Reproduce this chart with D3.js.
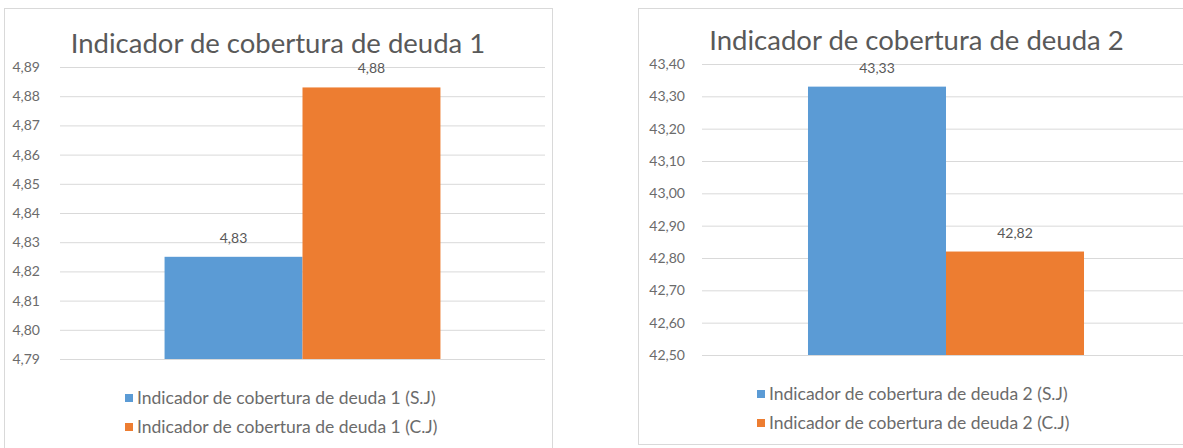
<!DOCTYPE html>
<html>
<head>
<meta charset="utf-8">
<script src="https://cdn.jsdelivr.net/npm/d3@7"></script>
<style>
  html, body { margin: 0; padding: 0; background: #fff; }
  svg { display: block; }
  text { font-family: Lato, "Open Sans", sans-serif; }
</style>
</head>
<body>
<svg id="chart" width="1183" height="448"></svg>
<script>
// chart values
const titles = ['Indicador de cobertura de deuda 1', 'Indicador de cobertura de deuda 2'];
const seriesNames1 = ['Indicador de cobertura de deuda 1 (S.J)', 'Indicador de cobertura de deuda 1 (C.J)'];
const seriesNames2 = ['Indicador de cobertura de deuda 2 (S.J)', 'Indicador de cobertura de deuda 2 (C.J)'];
const values1 = [4.825, 4.883];
const values2 = [43.33, 42.82];
const domain1 = [4.79, 4.89];
const domain2 = [42.5, 43.4];
const tickCount1 = 10;
const tickCount2 = 9;
const colors = ['#5b9bd5', '#ed7d31'];

const locale = d3.formatLocale({decimal: ',', thousands: '.', grouping: [3], currency: ['', '€']});
const fmt = locale.format('.2f');

const svg = d3.select('#chart');

function drawChart(opts) {
  const g = svg.append('g');

  // outer frame
  g.append('rect')
    .attr('x', opts.frame.x + 0.5)
    .attr('y', opts.frame.y + 0.5)
    .attr('width', opts.frame.w)
    .attr('height', opts.frame.h)
    .attr('fill', '#fff')
    .attr('stroke', '#d9d9d9')
    .attr('stroke-width', 1);

  const y = d3.scaleLinear().domain(opts.domain).range([opts.plot.bottom, opts.plot.top]);
  const x0 = d3.scaleBand().domain([opts.title]).range([opts.plot.left, opts.plot.right])
    .paddingInner(0).paddingOuter(opts.outerPad);
  const x1 = d3.scaleBand().domain(opts.series).range([0, x0.bandwidth()]).padding(0);

  // gridlines + tick labels
  const yAxis = d3.axisLeft(y)
    .ticks(opts.tickCount)
    .tickFormat(fmt)
    .tickSize(-(opts.plot.right - opts.plot.left))
    .tickPadding(opts.tickPad);
  const ax = g.append('g')
    .attr('transform', `translate(${opts.plot.left},0)`)
    .call(yAxis);
  ax.select('.domain').remove();
  ax.selectAll('.tick line').attr('stroke', '#d9d9d9').attr('stroke-width', 1);
  ax.selectAll('.tick text')
    .attr('fill', '#6b6b6b')
    .style('font-size', '14px');

  // bars
  const bars = g.append('g');
  opts.values.forEach((v, i) => {
    bars.append('rect')
      .attr('x', x0(opts.title) + x1(opts.series[i]))
      .attr('y', y(v))
      .attr('width', x1.bandwidth())
      .attr('height', y(opts.domain[0]) - y(v))
      .attr('fill', colors[i]);
    bars.append('text')
      .attr('x', x0(opts.title) + x1(opts.series[i]) + x1.bandwidth() / 2)
      .attr('y', y(v) - 14)
      .attr('text-anchor', 'middle')
      .attr('fill', '#595959')
      .style('font-size', '14px')
      .text(fmt(v));
  });

  // title
  g.append('text')
    .attr('x', opts.frame.x + opts.frame.w / 2)
    .attr('y', opts.titleY)
    .attr('text-anchor', 'middle')
    .attr('fill', '#595959')
    .style('font-size', '27.5px')
    .text(opts.title);

  // legend
  const lg = g.append('g');
  opts.series.forEach((s, i) => {
    const ly = opts.legend.y + i * opts.legend.step;
    lg.append('rect')
      .attr('x', opts.legend.x)
      .attr('y', ly - 4)
      .attr('width', 8)
      .attr('height', 8)
      .attr('fill', colors[i]);
    lg.append('text')
      .attr('x', opts.legend.x + 12)
      .attr('y', ly)
      .attr('dy', '0.35em')
      .attr('fill', '#6b6b6b')
      .style('font-size', '17.5px')
      .text(s);
  });
}

drawChart({
  title: titles[0],
  series: seriesNames1,
  values: values1,
  domain: domain1,
  tickCount: tickCount1,
  frame: {x: 4, y: 8, w: 548, h: 450},
  plot: {left: 60, right: 545, top: 67, bottom: 359},
  outerPad: 0.379,
  tickPad: 20,
  titleY: 53,
  legend: {x: 125, y: 398, step: 29}
});

drawChart({
  title: titles[1],
  series: seriesNames2,
  values: values2,
  domain: domain2,
  tickCount: tickCount2,
  frame: {x: 638, y: 8, w: 557, h: 436},
  plot: {left: 702, right: 1190, top: 64, bottom: 355},
  outerPad: 0.384,
  tickPad: 17,
  titleY: 50,
  legend: {x: 757, y: 394, step: 29}
});
</script>
</body>
</html>
